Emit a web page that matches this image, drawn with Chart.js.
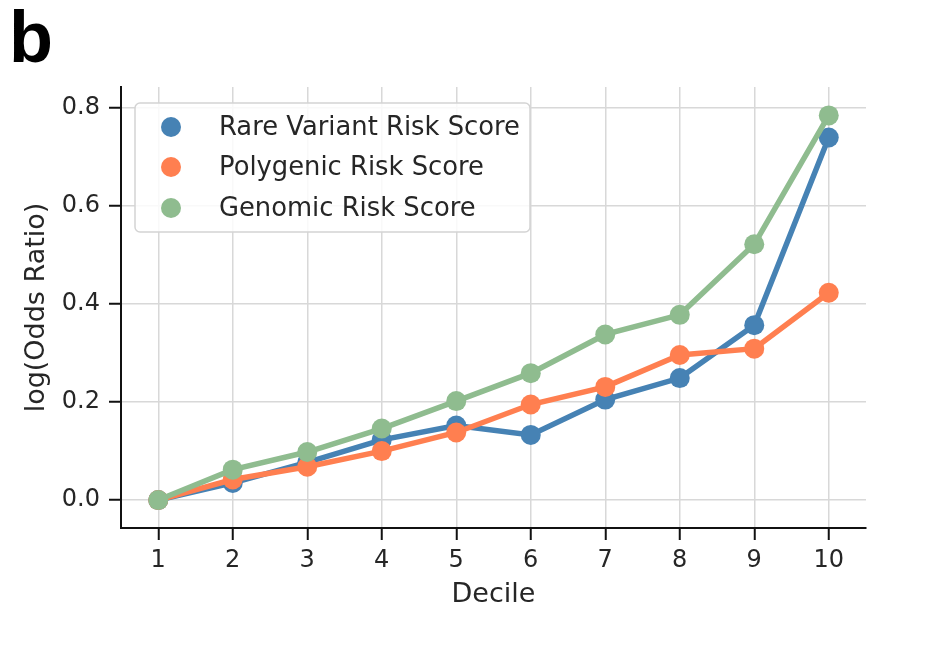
<!DOCTYPE html>
<html>
<head>
<meta charset="utf-8">
<script src="https://cdn.jsdelivr.net/npm/chart.js@4.4.0/dist/chart.umd.min.js"></script>
<style>
  html, body { margin: 0; padding: 0; background: #fff; }
  #wrap { position: relative; width: 950px; height: 664px; }
  #panel { position: absolute; left: 9px; top: -4px; font: bold 72px "Liberation Sans", Arial, sans-serif; color: #000; }
  canvas { position: absolute; left: 0; top: 0; }
</style>
</head>
<body>
<div id="wrap">
  <canvas id="myChart" width="950" height="664"></canvas>
  <div id="panel">b</div>
</div>
<script>
var deciles = [1, 2, 3, 4, 5, 6, 7, 8, 9, 10];
var rareVariant = [0, 0.035, 0.077, 0.123, 0.152, 0.133, 0.205, 0.249, 0.357, 0.740];
var polygenic = [0, 0.042, 0.068, 0.100, 0.138, 0.195, 0.231, 0.296, 0.309, 0.423];
var genomic = [0, 0.062, 0.098, 0.146, 0.202, 0.259, 0.338, 0.378, 0.522, 0.785];
var yTicks = [0, 0.2, 0.4, 0.6, 0.8];
var seriesNames = ["Rare Variant Risk Score", "Polygenic Risk Score", "Genomic Risk Score"];
var seriesColors = ["#4682b4", "#ff7f50", "#8fbc8f"];

var font = "'DejaVu Sans', sans-serif";
var textColor = "#262626";

function pairs(ys) {
  return deciles.map(function (d, i) { return { x: d, y: ys[i] }; });
}

function makeSet(i, ys) {
  return {
    label: seriesNames[i],
    data: pairs(ys),
    borderColor: seriesColors[i],
    backgroundColor: seriesColors[i],
    pointBackgroundColor: seriesColors[i],
    pointBorderWidth: 0,
    pointRadius: 10,
    pointHoverRadius: 10,
    borderWidth: 5.5,
    tension: 0,
    order: 3 - i,
  };
}

// legend box inside the plot, like matplotlib's
var insideLegend = {
  id: "insideLegend",
  afterDatasetsDraw: function (chart) {
    var ctx = chart.ctx;
    ctx.save();
    var x0 = 135, y0 = 103, w = 395, h = 129, r = 5;
    ctx.beginPath();
    ctx.roundRect(x0, y0, w, h, r);
    ctx.fillStyle = "rgba(255,255,255,0.85)";
    ctx.fill();
    ctx.lineWidth = 1.5;
    ctx.strokeStyle = "#d4d4d4";
    ctx.stroke();
    var rows = [127, 167, 208];
    ctx.font = "25.8px " + font;
    ctx.textBaseline = "middle";
    for (var i = 0; i < seriesNames.length; i++) {
      ctx.beginPath();
      ctx.arc(171, rows[i], 10, 0, Math.PI * 2);
      ctx.fillStyle = seriesColors[i];
      ctx.fill();
      ctx.fillStyle = textColor;
      ctx.fillText(seriesNames[i], 219, rows[i] + 1);
    }
    ctx.restore();
  },
};

var ctx = document.getElementById("myChart").getContext("2d");
var myChart = new Chart(ctx, {
  type: "line",
  data: {
    datasets: [makeSet(0, rareVariant), makeSet(1, polygenic), makeSet(2, genomic)],
  },
  options: {
    responsive: false,
    animation: false,
    devicePixelRatio: 1,
    layout: { padding: { left: 0, top: 87, right: 84, bottom: 0 } },
    plugins: {
      legend: { display: false },
      tooltip: { enabled: false },
    },
    scales: {
      x: {
        type: "linear",
        min: 0.5,
        max: 10.5,
        afterBuildTicks: function (s) {
          s.ticks = deciles.map(function (v) { return { value: v }; });
        },
        afterFit: function (s) { s.height = 136; },
        ticks: {
          font: { family: font, size: 24 },
          color: textColor,
          padding: 6,
          maxRotation: 0,
          autoSkip: false,
        },
        grid: {
          color: "#d8d8d8",
          lineWidth: 1.5,
          tickColor: "#111",
          tickLength: 12,
          tickWidth: 2,
        },
        border: { color: "#111", width: 2 },
        title: {
          display: true,
          text: "Decile",
          color: textColor,
          font: { family: font, size: 27 },
          padding: { top: 0, bottom: 53 },
        },
      },
      y: {
        type: "linear",
        min: -0.057,
        max: 0.843,
        afterBuildTicks: function (s) {
          s.ticks = yTicks.map(function (v) { return { value: v }; });
        },
        afterFit: function (s) { s.width = 121; },
        ticks: {
          font: { family: font, size: 24 },
          color: textColor,
          padding: 9,
          callback: function (v) { return v.toFixed(1); },
        },
        grid: {
          color: "#d8d8d8",
          lineWidth: 1.5,
          tickColor: "#111",
          tickLength: 12,
          tickWidth: 2,
        },
        border: { color: "#111", width: 2 },
        title: {
          display: true,
          text: "log(Odds Ratio)",
          color: textColor,
          font: { family: font, size: 27 },
          padding: { top: 21, bottom: 0 },
        },
      },
    },
  },
  plugins: [insideLegend],
});
</script>
</body>
</html>
